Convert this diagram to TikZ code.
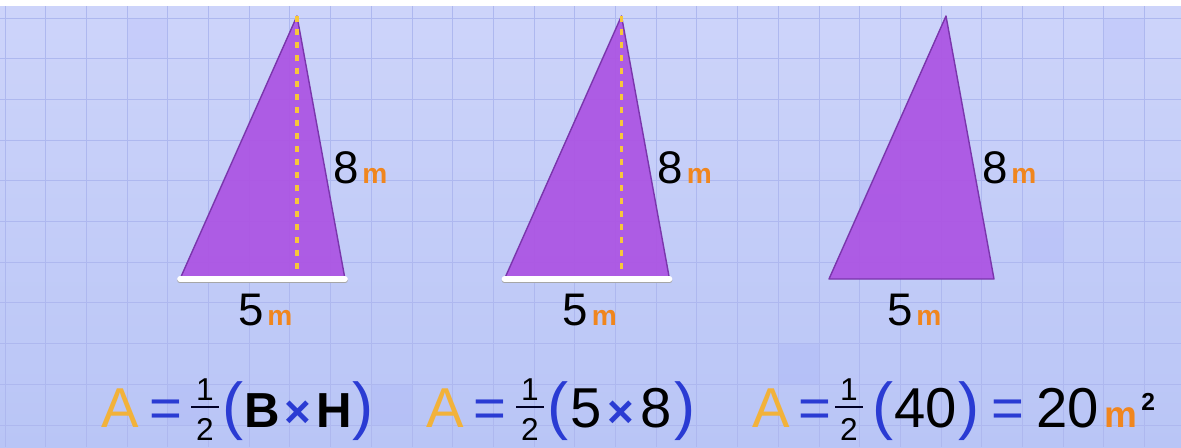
\documentclass[tikz,border=0pt]{standalone}
\usepackage{fontspec}
\setmainfont{Liberation Sans}
\usepackage{tikz}
\usetikzlibrary{positioning}
\usetikzlibrary{calc}

\definecolor{bgtop}{HTML}{CDD4FA}
\definecolor{bgbottom}{HTML}{B9C5F6}
\definecolor{gridblue}{HTML}{AEB8EF}
\definecolor{trifill}{HTML}{AC55E3}
\definecolor{triedge}{HTML}{7A36AC}
\definecolor{altyellow}{HTML}{F7C73A}
\definecolor{ayellow}{HTML}{F2B23A}
\definecolor{eqblue}{HTML}{2A3BD3}
\definecolor{unitorange}{HTML}{F0861E}

\newcommand{\unitm}[1]{{\fontsize{#1}{#1}\selectfont\bfseries\color{unitorange}m}}

\tikzset{
    gridline/.style={draw=gridblue, line width=0.5pt},
    triangle/.style={fill=trifill, fill opacity=0.94, draw=triedge, line width=0.8pt, line join=round},
    altitude/.style={draw=altyellow, line width=2pt, dash pattern=on 3.4pt off 4pt},
    baseedge/.style={draw=white, line width=3.2pt, line cap=round},
    sizelabel/.style={inner sep=0pt, anchor=base west, font=\fontsize{26}{26}\selectfont},
    eqtext/.style={inner sep=0pt, anchor=base, font=\fontsize{32}{32}\selectfont},
    eqA/.style={eqtext, text=ayellow},
    eqsym/.style={eqtext, text=eqblue},
    eqtimes/.style={eqtext, text=eqblue, font=\fontsize{26}{26}\selectfont\bfseries},
    eqparen/.style={eqtext, text=eqblue, font=\fontsize{36}{36}\selectfont},
    eqbold/.style={eqtext, font=\fontsize{28}{28}\selectfont\bfseries},
    eqfrac/.style={eqtext, font=\fontsize{18}{18}\selectfont},
    fracbar/.style={draw=black!85!blue, line width=1.6pt},
}

\begin{document}
\begin{tikzpicture}[x=0.02cm, y=-0.02cm]
    \useasboundingbox (0,0) rectangle (1181,447);

    \fill[white] (0,0) rectangle (1181,447);
    \shade[top color=bgtop, bottom color=bgbottom] (0,6) rectangle (1181,447);
    \foreach \gx/\gy/\op in {3/0/0.5, 27/0/0.6, 21/4/0.7, 25/5/0.6, 19/8/0.6, 9/9/0.5, 4/9/0.4} {
        \fill[blue!60, opacity=\op*0.12] ({5+\gx*40.7},{18+\gy*40.7}) rectangle ++(40.7,40.7);
    }
    \foreach \gx in {0,...,28} {
        \draw[gridline] ({5+\gx*40.7},6) -- ({5+\gx*40.7},447);
    }
    \foreach \gy in {0,...,10} {
        \draw[gridline] (0,{18+\gy*40.7}) -- (1181,{18+\gy*40.7});
    }

    \foreach \i/\dx in {1/0, 2/324.5, 3/649} {
        \coordinate (L\i) at ({180+\dx},279);
        \coordinate (R\i) at ({345+\dx},279);
        \coordinate (P\i) at ({297+\dx},16);
        \coordinate (F\i) at ({297+\dx},279);
        \filldraw[triangle] (L\i) -- (R\i) -- (P\i) -- cycle;

        \node[sizelabel] (hgt\i) at ({333+\dx},183) {8\hspace{2pt}\unitm{16}};
        \node[sizelabel] (bas\i) at ({238+\dx},325) {5\hspace{2pt}\unitm{16}};
    }

    \foreach \i in {1,2} {
        \draw[altitude] (P\i) -- (F\i);
        \draw[draw=black!35, line width=3.2pt, line cap=round] ([yshift=-0.8pt]L\i) -- ([yshift=-0.8pt]R\i);
        \draw[baseedge] (L\i) -- (R\i);
    }

    \foreach \i/\ax/\sx/\fx in {1/120/166/205, 2/445/490/530, 3/771/815/849} {
        \node[eqA] (a\i) at (\ax,427) {A};
        \node[eqsym] (s\i) at (\sx,427) {=};
        \node[eqfrac] (n\i) at (\fx,400) {1};
        \node[eqfrac] (d\i) at (\fx,440) {2};
        \draw[fracbar] ({\fx-14},407) -- ({\fx+14},407);
    }

    \node[eqparen] (lp1) at (233,427) {(};
    \node[eqbold] (bb) at (262,427) {B};
    \node[eqtimes] (t1) at (298,427) {×};
    \node[eqbold] (hh) at (334,427) {H};
    \node[eqparen] (rp1) at (363,427) {)};

    \node[eqparen] (lp2) at (558,427) {(};
    \node[eqtext] (five) at (586,427) {5};
    \node[eqtimes] (t2) at (621,427) {×};
    \node[eqtext] (eight) at (656,427) {8};
    \node[eqparen] (rp2) at (685,427) {)};

    \node[eqparen] (lp3) at (883,427) {(};
    \node[eqtext] (forty) at (926,427) {40};
    \node[eqparen] (rp3) at (969,427) {)};
    \node[eqsym] (s4) at (1008,427) {=};
    \node[eqtext] (twenty) at (1068,427) {20};
    \node[eqtext, anchor=base west] (unit) at (1104,427) {\unitm{21}};
    \node[eqtext, anchor=base west, font=\fontsize{14}{14}\selectfont\bfseries] (sq) at (1141,410) {2};

\end{tikzpicture}
\end{document}
